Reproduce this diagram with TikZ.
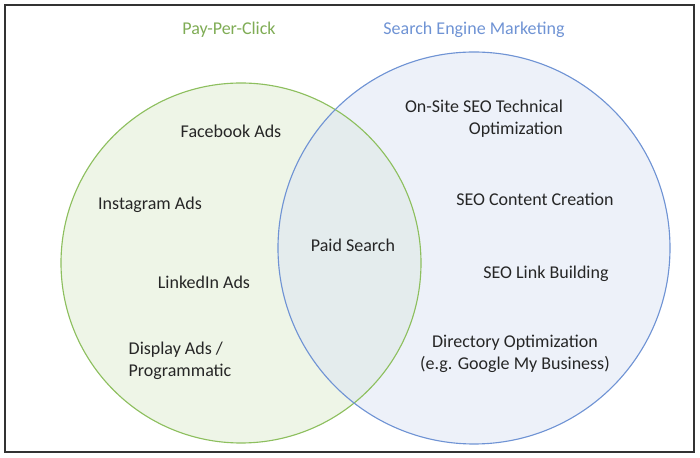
\documentclass[tikz,border=0pt]{standalone}
\usepackage{fontspec}
\setmainfont{Carlito}
\definecolor{ppcgreen}{HTML}{8DBF5E}
\definecolor{semblue}{HTML}{6F93D4}
\tikzset{%
	item/.style={font=\fontsize{12.8}{15.5}\selectfont, text=black!85},
	head/.style={font=\fontsize{12.8}{15.5}\selectfont},
}
\begin{document}
\begin{tikzpicture}[x=0.025cm, y=-0.025cm]
	\useasboundingbox (0,0) rectangle (700,458);
	% frame
	\draw[black!80, line width=0.8pt] (5,5) rectangle (694,452);
	
	% circles
	\fill[ppcgreen!15] (241,263) circle (180);
	\fill[semblue!25, opacity=0.5] (474,248) circle (196);
	\draw[ppcgreen, line width=0.8pt] (241,263) circle (180);
	\draw[semblue, line width=0.8pt] (474,248) circle (196);
	
	% headings
	\node[head, text=ppcgreen!90!black] (ppc) at (229,30) {Pay-Per-Click};
	\node[head, text=semblue] (sem) at (474,30) {Search Engine Marketing};
	
	% left items
	\node[item] (fb) at (231,131) {Facebook Ads};
	\node[item] (ig) at (150,205) {Instagram Ads};
	\node[item] (li) at (204,282) {LinkedIn Ads};
	\node[item, align=left] (disp) at (180,361) {Display Ads /\\Programmatic};
	
	% overlap
	\node[item] (paid) at (353,245) {Paid Search};
	
	% right items
	\node[item, align=right] (onsite) at (484,119) {On-Site SEO Technical\\Optimization};
	\node[item] (content) at (535,199) {SEO Content Creation};
	\node[item] (link) at (546,274) {SEO Link Building};
	\node[item, align=center] (dir) at (515,354) {Directory Optimization\\(e.g. Google My Business)};
\end{tikzpicture}
\end{document}
